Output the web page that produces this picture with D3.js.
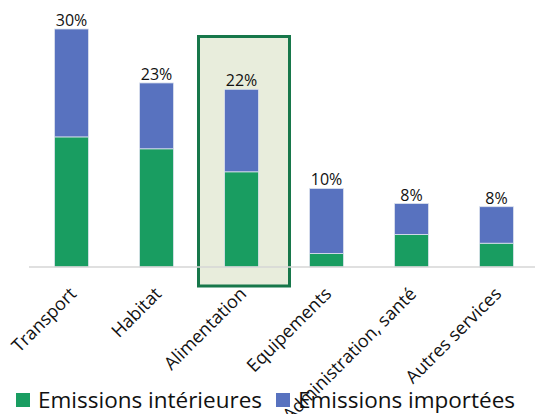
<html>
<head>
<meta charset="utf-8"/>
<script src="https://d3js.org/d3.v7.min.js"></script>
<style>
  body { margin: 0; background: #fff; }
  text { font-family: "Open Sans", "Noto Sans", sans-serif; fill: #111; }
</style>
</head>
<body>
<div id="chart"></div>
<script>
// parts of the carbon footprint, in %
var categories = ["Transport", "Habitat", "Alimentation", "Equipements", "Administration, santé", "Autres services"];
var interieures = [16.4, 14.9, 12.0, 1.7, 4.1, 3.0];
var importees = [13.6, 8.3, 10.4, 8.2, 3.9, 4.6];
var totalLabels = ["30%", "23%", "22%", "10%", "8%", "8%"];
var highlighted = "Alimentation";
var seriesNames = ["Emissions intérieures", "Emissions importées"];

var w = 535, h = 414;
var green = "#199d61", blue = "#5872bf";

var svg = d3.select("#chart").append("svg")
    .attr("width", w)
    .attr("height", h);

var x = d3.scaleBand()
    .domain(categories)
    .range([29, 539])
    .paddingInner(0.6)
    .paddingOuter(0.3);

var y = d3.scaleLinear()
    .domain([0, 30])
    .range([267, 29]);

// highlight box behind the highlighted category
svg.append("rect")
    .attr("x", x(highlighted) - 26)
    .attr("y", 36.5)
    .attr("width", x.bandwidth() + 57)
    .attr("height", y(0) + 19 - 36.5)
    .attr("fill", "#e8eddc")
    .attr("stroke", "#17774a")
    .attr("stroke-width", 3);

var rows = categories.map(function(c, i) {
    return { cat: c, interieures: interieures[i], importees: importees[i], label: totalLabels[i] };
});

var stack = d3.stack().keys(["interieures", "importees"])(rows);
var colors = [green, blue];

svg.selectAll("g.serie")
    .data(stack)
    .enter().append("g")
    .attr("class", "serie")
    .attr("fill", function(d, i) { return colors[i]; })
  .selectAll("rect")
    .data(function(d) { return d; })
    .enter().append("rect")
    .attr("x", function(d) { return x(d.data.cat); })
    .attr("y", function(d) { return y(d[1]); })
    .attr("width", x.bandwidth())
    .attr("height", function(d) { return y(d[0]) - y(d[1]); })
    .attr("stroke", "#dde3ee")
    .attr("stroke-width", 0.8);

// baseline
svg.append("line")
    .attr("x1", 29).attr("x2", w)
    .attr("y1", y(0)).attr("y2", y(0))
    .attr("stroke", "#d6d6d6")
    .attr("stroke-width", 1.5);

// totals on top
svg.selectAll("text.total")
    .data(rows)
    .enter().append("text")
    .attr("class", "total")
    .attr("x", function(d) { return x(d.cat) + x.bandwidth() / 2; })
    .attr("y", function(d) { return y(d.interieures + d.importees) - 3; })
    .attr("text-anchor", "middle")
    .style("font-size", "16px")
    .text(function(d) { return d.label; });

// rotated category labels
svg.selectAll("text.cat")
    .data(categories)
    .enter().append("text")
    .attr("class", "cat")
    .attr("text-anchor", "end")
    .attr("transform", function(d) {
        return "translate(" + (x(d) + x.bandwidth() / 2 + 6) + "," + (y(0) + 28) + ") rotate(-45)";
    })
    .style("font-size", "18px")
    .text(function(d) { return d; });

// legend
var legend = svg.append("g");
var legendX = [16, 276];
seriesNames.forEach(function(name, i) {
    legend.append("rect")
        .attr("x", legendX[i]).attr("y", 393)
        .attr("width", 14).attr("height", 14)
        .attr("fill", colors[i]);
    legend.append("text")
        .attr("x", legendX[i] + 22).attr("y", 408)
        .style("font-size", "22.5px")
        .text(name);
});
</script>
</body>
</html>
